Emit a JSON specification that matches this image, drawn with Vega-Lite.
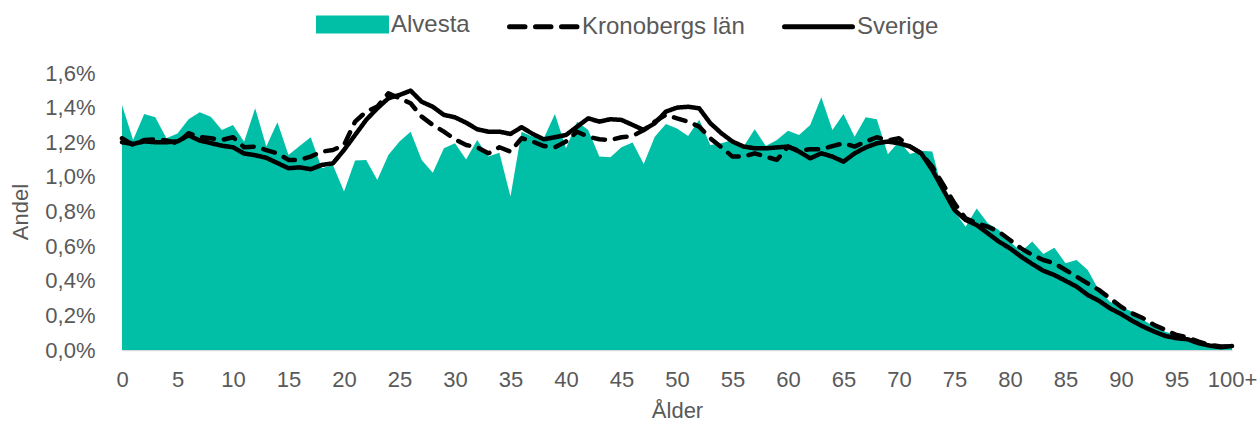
{
 "$schema": "https://vega.github.io/schema/vega-lite/v6.json",
 "width": 1110, "height": 277,
 "autosize": {"type": "none"},
 "padding": {"left": 122, "top": 73, "right": 27, "bottom": 73},
 "background": "white",
 "config": {"view": {"stroke": null}, "font": "Liberation Sans"},
 "data": {"values": [
  {"age":0,"Alvesta":1.415,"Kronobergs län":1.223,"Sverige":1.20},
  {"age":1,"Alvesta":1.213,"Kronobergs län":1.184,"Sverige":1.19},
  {"age":2,"Alvesta":1.363,"Kronobergs län":1.213,"Sverige":1.205},
  {"age":3,"Alvesta":1.344,"Kronobergs län":1.217,"Sverige":1.20},
  {"age":4,"Alvesta":1.223,"Kronobergs län":1.21,"Sverige":1.20},
  {"age":5,"Alvesta":1.25,"Kronobergs län":1.194,"Sverige":1.205},
  {"age":6,"Alvesta":1.333,"Kronobergs län":1.252,"Sverige":1.24},
  {"age":7,"Alvesta":1.373,"Kronobergs län":1.23,"Sverige":1.21},
  {"age":8,"Alvesta":1.348,"Kronobergs län":1.223,"Sverige":1.195},
  {"age":9,"Alvesta":1.271,"Kronobergs län":1.213,"Sverige":1.18},
  {"age":10,"Alvesta":1.30,"Kronobergs län":1.229,"Sverige":1.171},
  {"age":11,"Alvesta":1.203,"Kronobergs län":1.171,"Sverige":1.135},
  {"age":12,"Alvesta":1.396,"Kronobergs län":1.175,"Sverige":1.125},
  {"age":13,"Alvesta":1.175,"Kronobergs län":1.155,"Sverige":1.11},
  {"age":14,"Alvesta":1.315,"Kronobergs län":1.136,"Sverige":1.08},
  {"age":15,"Alvesta":1.127,"Kronobergs län":1.098,"Sverige":1.05},
  {"age":16,"Alvesta":1.178,"Kronobergs län":1.098,"Sverige":1.055},
  {"age":17,"Alvesta":1.229,"Kronobergs län":1.117,"Sverige":1.044},
  {"age":18,"Alvesta":1.05,"Kronobergs län":1.146,"Sverige":1.069},
  {"age":19,"Alvesta":1.069,"Kronobergs län":1.155,"Sverige":1.078},
  {"age":20,"Alvesta":0.915,"Kronobergs län":1.184,"Sverige":1.155},
  {"age":21,"Alvesta":1.094,"Kronobergs län":1.319,"Sverige":1.242},
  {"age":22,"Alvesta":1.098,"Kronobergs län":1.377,"Sverige":1.329},
  {"age":23,"Alvesta":0.982,"Kronobergs län":1.406,"Sverige":1.396},
  {"age":24,"Alvesta":1.127,"Kronobergs län":1.483,"Sverige":1.454},
  {"age":25,"Alvesta":1.204,"Kronobergs län":1.454,"Sverige":1.473},
  {"age":26,"Alvesta":1.261,"Kronobergs län":1.425,"Sverige":1.498},
  {"age":27,"Alvesta":1.098,"Kronobergs län":1.348,"Sverige":1.434},
  {"age":28,"Alvesta":1.024,"Kronobergs län":1.30,"Sverige":1.405},
  {"age":29,"Alvesta":1.165,"Kronobergs län":1.261,"Sverige":1.358},
  {"age":30,"Alvesta":1.194,"Kronobergs län":1.217,"Sverige":1.344},
  {"age":31,"Alvesta":1.10,"Kronobergs län":1.184,"Sverige":1.313},
  {"age":32,"Alvesta":1.213,"Kronobergs län":1.171,"Sverige":1.275},
  {"age":33,"Alvesta":1.117,"Kronobergs län":1.136,"Sverige":1.261},
  {"age":34,"Alvesta":1.14,"Kronobergs län":1.171,"Sverige":1.261},
  {"age":35,"Alvesta":0.886,"Kronobergs län":1.146,"Sverige":1.248},
  {"age":36,"Alvesta":1.26,"Kronobergs län":1.223,"Sverige":1.287},
  {"age":37,"Alvesta":1.232,"Kronobergs län":1.204,"Sverige":1.248},
  {"age":38,"Alvesta":1.223,"Kronobergs län":1.178,"Sverige":1.217},
  {"age":39,"Alvesta":1.363,"Kronobergs län":1.171,"Sverige":1.229},
  {"age":40,"Alvesta":1.165,"Kronobergs län":1.204,"Sverige":1.242},
  {"age":41,"Alvesta":1.319,"Kronobergs län":1.261,"Sverige":1.29},
  {"age":42,"Alvesta":1.271,"Kronobergs län":1.232,"Sverige":1.338},
  {"age":43,"Alvesta":1.117,"Kronobergs län":1.217,"Sverige":1.319},
  {"age":44,"Alvesta":1.113,"Kronobergs län":1.213,"Sverige":1.333},
  {"age":45,"Alvesta":1.171,"Kronobergs län":1.229,"Sverige":1.329},
  {"age":46,"Alvesta":1.198,"Kronobergs län":1.236,"Sverige":1.30},
  {"age":47,"Alvesta":1.075,"Kronobergs län":1.271,"Sverige":1.271},
  {"age":48,"Alvesta":1.232,"Kronobergs län":1.319,"Sverige":1.31},
  {"age":49,"Alvesta":1.306,"Kronobergs län":1.358,"Sverige":1.377},
  {"age":50,"Alvesta":1.28,"Kronobergs län":1.338,"Sverige":1.40},
  {"age":51,"Alvesta":1.236,"Kronobergs län":1.319,"Sverige":1.405},
  {"age":52,"Alvesta":1.33,"Kronobergs län":1.29,"Sverige":1.396},
  {"age":53,"Alvesta":1.184,"Kronobergs län":1.223,"Sverige":1.31},
  {"age":54,"Alvesta":1.194,"Kronobergs län":1.171,"Sverige":1.252},
  {"age":55,"Alvesta":1.213,"Kronobergs län":1.117,"Sverige":1.204},
  {"age":56,"Alvesta":1.175,"Kronobergs län":1.117,"Sverige":1.175},
  {"age":57,"Alvesta":1.275,"Kronobergs län":1.136,"Sverige":1.165},
  {"age":58,"Alvesta":1.178,"Kronobergs län":1.117,"Sverige":1.165},
  {"age":59,"Alvesta":1.213,"Kronobergs län":1.098,"Sverige":1.17},
  {"age":60,"Alvesta":1.267,"Kronobergs län":1.175,"Sverige":1.175},
  {"age":61,"Alvesta":1.242,"Kronobergs län":1.151,"Sverige":1.146},
  {"age":62,"Alvesta":1.30,"Kronobergs län":1.159,"Sverige":1.107},
  {"age":63,"Alvesta":1.46,"Kronobergs län":1.159,"Sverige":1.136},
  {"age":64,"Alvesta":1.271,"Kronobergs län":1.178,"Sverige":1.117},
  {"age":65,"Alvesta":1.363,"Kronobergs län":1.194,"Sverige":1.088},
  {"age":66,"Alvesta":1.232,"Kronobergs län":1.175,"Sverige":1.136},
  {"age":67,"Alvesta":1.344,"Kronobergs län":1.204,"Sverige":1.17},
  {"age":68,"Alvesta":1.333,"Kronobergs län":1.229,"Sverige":1.194},
  {"age":69,"Alvesta":1.131,"Kronobergs län":1.21,"Sverige":1.204},
  {"age":70,"Alvesta":1.204,"Kronobergs län":1.223,"Sverige":1.194},
  {"age":71,"Alvesta":1.132,"Kronobergs län":1.175,"Sverige":1.175},
  {"age":72,"Alvesta":1.151,"Kronobergs län":1.136,"Sverige":1.136},
  {"age":73,"Alvesta":1.146,"Kronobergs län":1.059,"Sverige":1.04},
  {"age":74,"Alvesta":0.90,"Kronobergs län":0.953,"Sverige":0.924},
  {"age":75,"Alvesta":0.80,"Kronobergs län":0.847,"Sverige":0.809},
  {"age":76,"Alvesta":0.712,"Kronobergs län":0.761,"Sverige":0.751},
  {"age":77,"Alvesta":0.818,"Kronobergs län":0.732,"Sverige":0.722},
  {"age":78,"Alvesta":0.732,"Kronobergs län":0.712,"Sverige":0.674},
  {"age":79,"Alvesta":0.693,"Kronobergs län":0.683,"Sverige":0.626},
  {"age":80,"Alvesta":0.626,"Kronobergs län":0.635,"Sverige":0.587},
  {"age":81,"Alvesta":0.568,"Kronobergs län":0.587,"Sverige":0.539},
  {"age":82,"Alvesta":0.626,"Kronobergs län":0.549,"Sverige":0.497},
  {"age":83,"Alvesta":0.555,"Kronobergs län":0.52,"Sverige":0.458},
  {"age":84,"Alvesta":0.591,"Kronobergs län":0.501,"Sverige":0.433},
  {"age":85,"Alvesta":0.501,"Kronobergs län":0.462,"Sverige":0.40},
  {"age":86,"Alvesta":0.52,"Kronobergs län":0.424,"Sverige":0.366},
  {"age":87,"Alvesta":0.462,"Kronobergs län":0.385,"Sverige":0.318},
  {"age":88,"Alvesta":0.347,"Kronobergs län":0.347,"Sverige":0.285},
  {"age":89,"Alvesta":0.279,"Kronobergs län":0.299,"Sverige":0.241},
  {"age":90,"Alvesta":0.25,"Kronobergs län":0.25,"Sverige":0.208},
  {"age":91,"Alvesta":0.221,"Kronobergs län":0.212,"Sverige":0.169},
  {"age":92,"Alvesta":0.173,"Kronobergs län":0.183,"Sverige":0.135},
  {"age":93,"Alvesta":0.135,"Kronobergs län":0.144,"Sverige":0.106},
  {"age":94,"Alvesta":0.106,"Kronobergs län":0.116,"Sverige":0.081},
  {"age":95,"Alvesta":0.087,"Kronobergs län":0.087,"Sverige":0.068},
  {"age":96,"Alvesta":0.068,"Kronobergs län":0.073,"Sverige":0.062},
  {"age":97,"Alvesta":0.039,"Kronobergs län":0.048,"Sverige":0.039},
  {"age":98,"Alvesta":0.02,"Kronobergs län":0.029,"Sverige":0.025},
  {"age":99,"Alvesta":0.015,"Kronobergs län":0.02,"Sverige":0.016},
  {"age":100,"Alvesta":0.02,"Kronobergs län":0.022,"Sverige":0.023}
 ]},
 "transform": [{"fold": ["Alvesta", "Kronobergs län", "Sverige"], "as": ["serie", "andel"]}],
 "encoding": {
  "x": {"field": "age", "type": "quantitative", "title": "Ålder",
   "scale": {"domain": [0, 100], "nice": false, "zero": false},
   "axis": {"values": [0,5,10,15,20,25,30,35,40,45,50,55,60,65,70,75,80,85,90,95,100],
    "labelExpr": "datum.value == 100 ? '100+' : datum.label",
    "grid": false, "ticks": false, "domainColor": "#D9D9D9", "domainWidth": 1.5,
    "labelFont": "Liberation Sans", "labelFontSize": 22, "labelColor": "#595959", "labelPadding": 19,
    "labelOverlap": false, "labelFlush": false,
    "titleFont": "Liberation Sans", "titleFontSize": 22, "titleColor": "#595959", "titleFontWeight": "normal", "titlePadding": 10}},
  "y": {"field": "andel", "type": "quantitative", "title": "Andel",
   "scale": {"domain": [0, 1.6], "nice": false},
   "axis": {"values": [0,0.2,0.4,0.6,0.8,1.0,1.2,1.4,1.6],
    "labelExpr": "replace(format(datum.value, '.1f'), '.', ',') + '%'",
    "grid": false, "ticks": false, "domain": false,
    "labelFont": "Liberation Sans", "labelFontSize": 22, "labelColor": "#595959", "labelPadding": 27,
    "labelOverlap": false, "labelFlush": false,
    "titleFont": "Liberation Sans", "titleFontSize": 22, "titleColor": "#595959", "titleFontWeight": "normal", "titlePadding": 12}},
  "color": {"field": "serie", "type": "nominal",
   "scale": {"domain": ["Alvesta", "Kronobergs län", "Sverige"], "range": ["#00BFA6", "#000000", "#000000"]},
   "legend": {"orient": "none", "legendX": 194, "legendY": -85, "direction": "horizontal", "title": null,
    "symbolType": "stroke", "symbolSize": 4624, "symbolStrokeWidth": 5, "symbolOpacity": 1,
    "labelFont": "Liberation Sans", "labelFontSize": 24, "labelColor": "#595959", "labelOffset": 2,
    "labelLimit": 400, "columnPadding": 29, "padding": 0,
    "encode": {"symbols": {"update": {
     "shape": {"signal": "datum.value === 'Alvesta' ? 'M-1,-0.19H1V0.19H-1Z' : 'stroke'"},
     "strokeDash": {"signal": "datum.value === 'Kronobergs län' ? [15.5, 10.5] : []"},
     "strokeCap": {"signal": "datum.value === 'Alvesta' ? 'butt' : 'round'"},
     "fill": {"signal": "datum.value === 'Alvesta' ? '#00BFA6' : 'transparent'"},
     "stroke": {"signal": "datum.value === 'Alvesta' ? 'transparent' : '#000000'"},
     "opacity": {"value": 1}}}}}}
 },
 "layer": [
  {"transform": [{"filter": "datum.serie === 'Alvesta'"}],
   "mark": {"type": "area", "opacity": 1, "interpolate": "linear"}},
  {"transform": [{"filter": "datum.serie !== 'Alvesta'"}],
   "mark": {"type": "line", "strokeWidth": 4.5, "strokeCap": "round", "strokeJoin": "round"},
   "encoding": {"strokeDash": {"field": "serie", "type": "nominal",
    "scale": {"domain": ["Kronobergs län", "Sverige"], "range": [[12, 10], [1, 0]]}, "legend": null}}}
 ]
}
